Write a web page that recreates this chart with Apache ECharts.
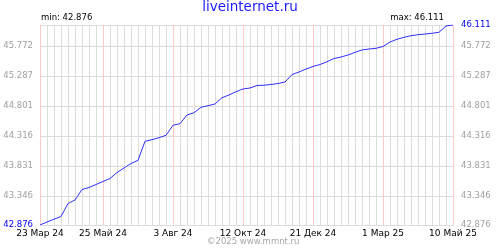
<!DOCTYPE html>
<html><head><meta charset="utf-8">
<script src="https://cdn.jsdelivr.net/npm/echarts@6/dist/echarts.min.js"></script>
<style>html,body{margin:0;padding:0;background:#fff}#c{width:500px;height:250px}</style>
</head><body><div id="c"></div>
<script>
const categories = ['23 Мар 24','30 Мар 24','6 Апр 24','13 Апр 24','20 Апр 24','27 Апр 24','4 Май 24','11 Май 24','18 Май 24','25 Май 24',
 '1 Июн 24','8 Июн 24','15 Июн 24','22 Июн 24','29 Июн 24','6 Июл 24','13 Июл 24','20 Июл 24','27 Июл 24','3 Авг 24',
 '10 Авг 24','17 Авг 24','24 Авг 24','31 Авг 24','7 Сен 24','14 Сен 24','21 Сен 24','28 Сен 24','5 Окт 24','12 Окт 24',
 '19 Окт 24','26 Окт 24','2 Ноя 24','9 Ноя 24','16 Ноя 24','23 Ноя 24','30 Ноя 24','7 Дек 24','14 Дек 24','21 Дек 24',
 '28 Дек 24','4 Янв 25','11 Янв 25','18 Янв 25','25 Янв 25','1 Фев 25','8 Фев 25','15 Фев 25','22 Фев 25','1 Мар 25',
 '8 Мар 25','15 Мар 25','22 Мар 25','29 Мар 25','5 Апр 25','12 Апр 25','19 Апр 25','26 Апр 25','3 Май 25','10 Май 25'];
const values = [42.876,42.925,42.970,43.013,43.224,43.280,43.450,43.483,43.531,43.580,
 43.628,43.725,43.798,43.871,43.922,44.230,44.256,44.288,44.327,44.489,
 44.515,44.655,44.692,44.780,44.806,44.833,44.935,44.979,45.032,45.076,
 45.092,45.132,45.137,45.149,45.165,45.189,45.310,45.351,45.399,45.440,
 45.472,45.517,45.569,45.593,45.626,45.669,45.707,45.723,45.734,45.763,
 45.836,45.880,45.912,45.938,45.954,45.965,45.977,45.993,46.095,46.111];
const xTickLabels = ['23 Мар 24','25 Май 24','3 Авг 24','12 Окт 24','21 Дек 24','1 Мар 25','10 Май 25'];
const yTickValues = [42.876,43.346,43.831,44.316,44.801,45.287,45.772,46.111];
const leftLabelValues = [42.876,43.346,43.831,44.316,44.801,45.287,45.772];
const rightLabelValues = [42.876,43.346,43.831,44.316,44.801,45.287,45.772,46.111];

const yMin = Math.min(...values), yMax = Math.max(...values);
const isMajor = (i) => xTickLabels.indexOf(categories[i]) >= 0;
const FONT = 'DejaVu Sans';
const rich = {
  b:{color:'#0000ff',fontFamily:FONT,fontSize:8.5},
  g:{color:'#a0a0a0',fontFamily:FONT,fontSize:8.5}
};
const fmt = (v) => {
  const s = Number(v).toFixed(3);
  return (Math.abs(v - yMin) < 1e-6 ? '{b|' + s + '}' : '{g|' + s + '}');
};
const fmtR = (v) => {
  const s = Number(v).toFixed(3);
  return (Math.abs(v - yMax) < 1e-6 ? '{b|' + s + '}' : '{g|' + s + '}');
};

const chart = echarts.init(document.getElementById('c'), null, {renderer:'canvas'});
chart.setOption({
  animation:false,
  backgroundColor:'#fff',
  title:[
    {text:'liveinternet.ru',left:'center',top:0,padding:0,textStyle:{color:'#1a1aff',fontFamily:FONT,fontSize:13.5,fontWeight:'normal'}},
    {text:'min: ' + yMin.toFixed(3),left:41,top:13,padding:0,textStyle:{color:'#000',fontFamily:FONT,fontSize:8.5,fontWeight:'normal'}},
    {text:'max: ' + yMax.toFixed(3),right:56,top:13,padding:0,textStyle:{color:'#000',fontFamily:FONT,fontSize:8.5,fontWeight:'normal'}},
    {text:'©2025 www.mmnt.ru',left:207,top:237,padding:0,textStyle:{color:'#a8a8a8',fontFamily:FONT,fontSize:8.5,fontWeight:'normal'}}
  ],
  grid:{left:40,right:47,top:25,bottom:25,containLabel:false},
  xAxis:[
    {type:'category',data:categories,boundaryGap:false,
     axisLine:{show:false},axisTick:{show:false},
     axisLabel:{interval:(i)=>isMajor(i),color:'#000',fontFamily:FONT,fontSize:9,margin:4,hideOverlap:false,showMinLabel:true,showMaxLabel:true},
     splitLine:{show:true,interval:0,lineStyle:{color:'#dcdcdc',width:1}}},
    {type:'category',data:categories,boundaryGap:false,
     axisLine:{show:false},axisTick:{show:false},axisLabel:{show:false},
     splitLine:{show:true,interval:(i)=>isMajor(i),lineStyle:{color:'#ffc8c8',width:1}}}
  ],
  yAxis:[
    {type:'value',position:'left',min:yMin,max:yMax,
     axisLine:{show:false},axisTick:{show:false,customValues:yTickValues},
     axisLabel:{customValues:leftLabelValues,formatter:fmt,rich:rich,margin:7},
     splitLine:{show:true,lineStyle:{color:'#dcdcdc',width:1}}},
    {type:'value',position:'right',min:yMin,max:yMax,
     axisLine:{show:false},axisTick:{show:false,customValues:yTickValues},
     axisLabel:{customValues:rightLabelValues,formatter:fmtR,rich:rich,margin:8},
     splitLine:{show:false}}
  ],
  series:[{type:'line',data:values,xAxisIndex:0,yAxisIndex:0,symbol:'none',
    lineStyle:{color:'#3030ff',width:1},z:5}]
});
</script></body></html>
